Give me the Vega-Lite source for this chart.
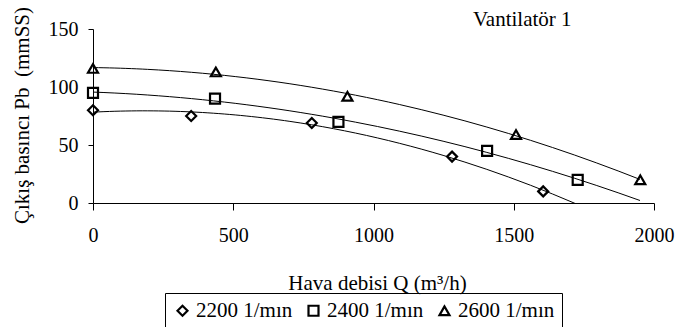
{
  "$schema": "https://vega.github.io/schema/vega-lite/v6.json",
  "width": 561,
  "height": 174,
  "autosize": {"type": "none"},
  "padding": {"left": 93, "top": 29, "right": 22, "bottom": 124},
  "background": "white",
  "title": {
    "text": "Vantilatör 1",
    "anchor": "start",
    "frame": "group",
    "dx": 380,
    "dy": 41,
    "offset": 0,
    "baseline": "alphabetic",
    "font": "Liberation Serif",
    "fontSize": 21,
    "fontWeight": "normal",
    "color": "black"
  },
  "config": {
    "view": {"stroke": null}
  },
  "data": {
    "values": [
      {"seri": "2200 1/mın", "Q": 0, "P": 80},
      {"seri": "2200 1/mın", "Q": 350, "P": 75},
      {"seri": "2200 1/mın", "Q": 780, "P": 69},
      {"seri": "2200 1/mın", "Q": 1280, "P": 40},
      {"seri": "2200 1/mın", "Q": 1605, "P": 10},
      {"seri": "2400 1/mın", "Q": 0, "P": 95},
      {"seri": "2400 1/mın", "Q": 435, "P": 90},
      {"seri": "2400 1/mın", "Q": 875, "P": 70},
      {"seri": "2400 1/mın", "Q": 1405, "P": 45},
      {"seri": "2400 1/mın", "Q": 1728, "P": 20},
      {"seri": "2600 1/mın", "Q": 0, "P": 116},
      {"seri": "2600 1/mın", "Q": 438, "P": 113},
      {"seri": "2600 1/mın", "Q": 907, "P": 92},
      {"seri": "2600 1/mın", "Q": 1508, "P": 59},
      {"seri": "2600 1/mın", "Q": 1951, "P": 20}
    ]
  },
  "encoding": {
    "x": {
      "field": "Q",
      "type": "quantitative",
      "scale": {"domain": [0, 2000], "nice": false, "zero": false},
      "axis": {
        "values": [0, 500, 1000, 1500, 2000],
        "format": "d",
        "grid": false,
        "domainColor": "black",
        "tickColor": "black",
        "tickSize": 7,
        "labelFont": "Liberation Serif",
        "labelFontSize": 20,
        "labelColor": "black",
        "labelBaseline": "alphabetic",
        "labelPadding": 31,
        "labelFlush": false,
        "title": "Hava debisi Q (m³/h)",
        "titleFont": "Liberation Serif",
        "titleFontSize": 21,
        "titleFontWeight": "normal",
        "titleColor": "black",
        "titleX": 284,
        "titleY": 86,
        "titleAlign": "center",
        "titleBaseline": "alphabetic"
      }
    },
    "y": {
      "field": "P",
      "type": "quantitative",
      "scale": {"domain": [0, 150], "nice": false},
      "axis": {
        "values": [0, 50, 100, 150],
        "format": "d",
        "grid": false,
        "domainColor": "black",
        "tickColor": "black",
        "tickSize": 5,
        "labelFont": "Liberation Serif",
        "labelFontSize": 20,
        "labelColor": "black",
        "labelPadding": 10,
        "labelFlush": false,
        "title": "Çıkış basıncı Pb\u00a0 (mmSS)",
        "titleFont": "Liberation Serif",
        "titleFontSize": 21,
        "titleFontWeight": "normal",
        "titleColor": "black",
        "titleAngle": -90,
        "titleX": -65,
        "titleY": 86,
        "titleAlign": "center",
        "titleBaseline": "alphabetic"
      }
    }
  },
  "layer": [
    {
      "transform": [
        {"regression": "P", "on": "Q", "groupby": ["seri"], "method": "poly", "order": 2, "extent": [0, 1950]}
      ],
      "mark": {"type": "line", "color": "black", "strokeWidth": 1, "clip": true},
      "encoding": {
        "detail": {"field": "seri", "type": "nominal"}
      }
    },
    {
      "mark": {"type": "point", "filled": false, "stroke": "black", "strokeWidth": 2.2, "size": 100, "opacity": 1},
      "encoding": {
        "shape": {
          "field": "seri",
          "type": "nominal",
          "scale": {
            "domain": ["2200 1/mın", "2400 1/mın", "2600 1/mın"],
            "range": ["diamond", "square", "triangle-up"]
          },
          "legend": {
            "title": null,
            "orient": "none",
            "legendX": 72,
            "legendY": 264,
            "direction": "horizontal",
            "columns": 3,
            "strokeColor": "black",
            "padding": 7,
            "columnPadding": 10,
            "labelFont": "Liberation Serif",
            "labelFontSize": 21,
            "labelColor": "black",
            "labelOffset": 3,
            "symbolSize": 100,
            "symbolStrokeWidth": 2.2,
            "symbolStrokeColor": "black",
            "symbolFillColor": "transparent",
            "symbolOpacity": 1
          }
        }
      }
    }
  ]
}
